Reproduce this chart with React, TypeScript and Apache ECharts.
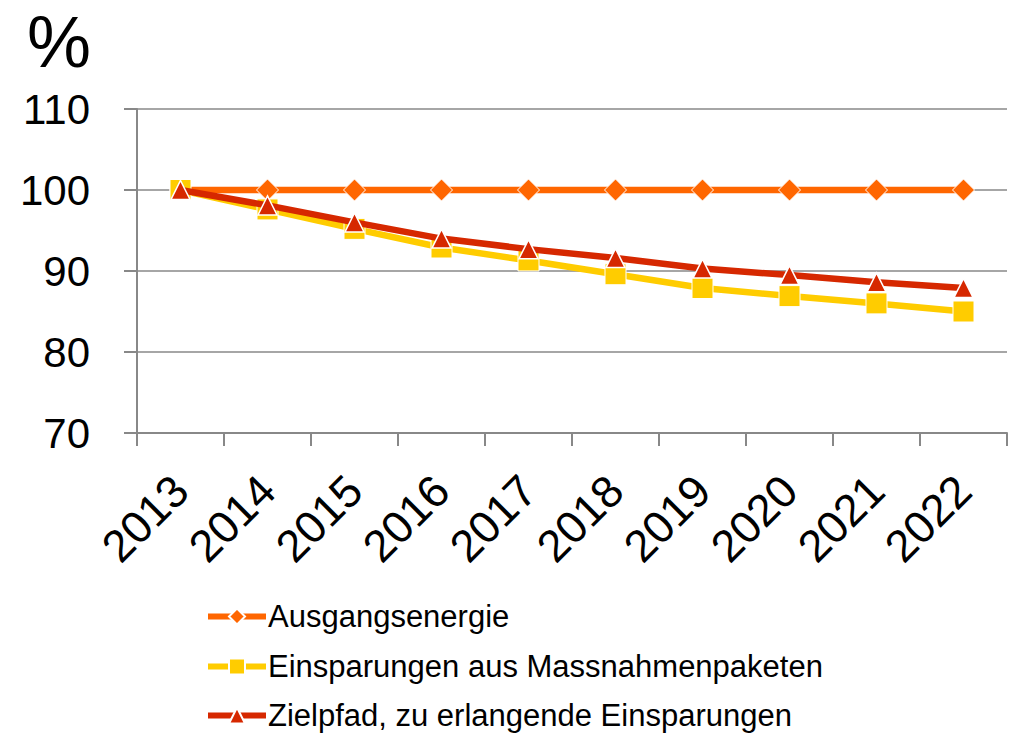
import React, { useEffect, useRef } from "react";
import * as echarts from "echarts";

const years = ["2013", "2014", "2015", "2016", "2017", "2018", "2019", "2020", "2021", "2022"];
const ausgangsenergie = [100, 100, 100, 100, 100, 100, 100, 100, 100, 100];
const einsparungen = [100, 97.6, 95.2, 92.9, 91.3, 89.6, 87.9, 86.9, 86.0, 85.0];
const zielpfad = [100, 98.1, 96.0, 94.0, 92.7, 91.6, 90.3, 89.5, 88.6, 87.9];
const seriesNames = [
  "Ausgangsenergie",
  "Einsparungen aus Massnahmenpaketen",
  "Zielpfad, zu erlangende Einsparungen",
];
const legendTops = [599, 649, 698];

export default function App() {
  const ref = useRef<HTMLDivElement>(null);
  useEffect(() => {
    if (!ref.current) return;
    const chart = echarts.init(ref.current, null, { renderer: "svg" });
    const font = "Liberation Sans, Arial, sans-serif";
    chart.setOption({
      animation: false,
      textStyle: { fontFamily: font },
      graphic: [
        {
          type: "text",
          left: 27,
          top: 6,
          style: { text: "%", fontSize: 72, fill: "#000", fontFamily: font },
        },
      ],
      grid: { left: 137, right: 9, top: 109, bottom: 306, containLabel: false },
      legend: seriesNames.map((n, i) => ({
        orient: "vertical",
        left: 200,
        top: legendTops[i],
        padding: [2, 5, 0, 5],
        itemWidth: 58,
        itemHeight: 20,
        lineStyle: { width: 6 },
        textStyle: { fontSize: 31, color: "#000", fontFamily: font, padding: [0, 0, 0, -3] },
        data: [n],
      })),
      xAxis: {
        type: "category",
        data: years,
        boundaryGap: true,
        axisLine: { lineStyle: { color: "#888", width: 2 } },
        axisTick: { show: true, length: 13, lineStyle: { color: "#888", width: 2 } },
        axisLabel: {
          rotate: 45,
          fontSize: 45,
          color: "#000",
          margin: 50,
          interval: 0,
          fontFamily: font,
        },
      },
      yAxis: {
        type: "value",
        min: 70,
        max: 110,
        interval: 10,
        axisLine: { show: true, lineStyle: { color: "#888", width: 2 } },
        axisTick: { show: true, length: 13, lineStyle: { color: "#888", width: 2 } },
        splitLine: { show: true, lineStyle: { color: "#888", width: 1.5 } },
        axisLabel: { fontSize: 42, color: "#000", margin: 47, fontFamily: font },
      },
      series: [
        {
          name: seriesNames[0],
          type: "line",
          data: ausgangsenergie,
          symbol: "diamond",
          symbolSize: 22,
          lineStyle: { color: "#FF6600", width: 6.5 },
          itemStyle: { color: "#FF6600", borderColor: "#fff", borderWidth: 1 },
          z: 2,
        },
        {
          name: seriesNames[1],
          type: "line",
          data: einsparungen,
          symbol: "rect",
          symbolSize: 21,
          lineStyle: { color: "#FFCC00", width: 6.5 },
          itemStyle: { color: "#FFCC00", borderColor: "#fff", borderWidth: 1 },
          z: 3,
        },
        {
          name: seriesNames[2],
          type: "line",
          data: zielpfad,
          symbol: "triangle",
          symbolSize: 19,
          lineStyle: { color: "#D62800", width: 6.5 },
          itemStyle: { color: "#D62800", borderColor: "#fff", borderWidth: 1.5 },
          z: 4,
        },
      ],
    });
    return () => chart.dispose();
  }, []);
  return (
    <div
      ref={ref}
      style={{ position: "fixed", left: 0, top: 0, width: 1016, height: 739, background: "#fff" }}
    />
  );
}
